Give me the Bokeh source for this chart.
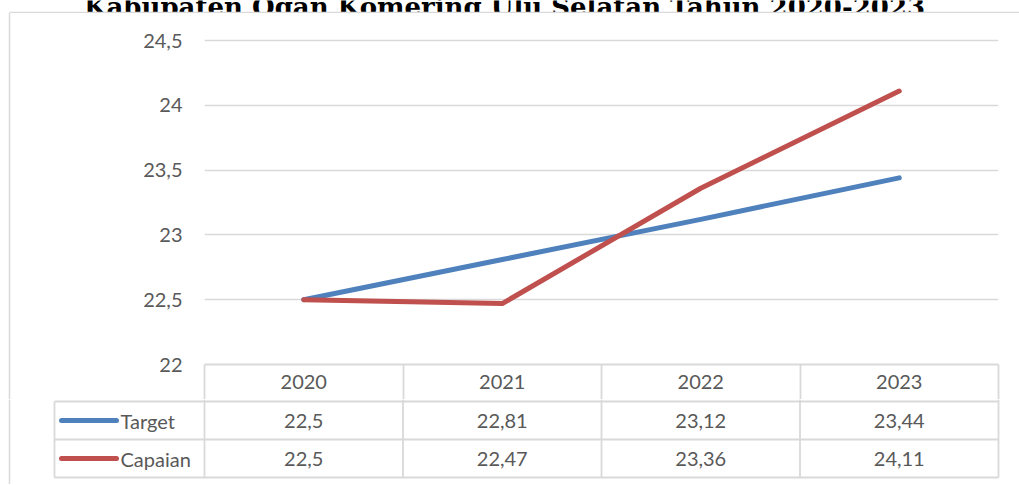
from bokeh.plotting import figure
from bokeh.models import Range1d, FixedTicker, LinearAxis, Grid
from bokeh.layouts import column, row
from bokeh.embed import file_html
from bokeh.resources import INLINE
from bokeh.core.properties import value

# ---------------- data ----------------
years = ["2020", "2021", "2022", "2023"]
target = [22.5, 22.81, 23.12, 23.44]
capaian = [22.5, 22.47, 23.36, 24.11]
series_names = ["Target", "Capaian"]
y_ticks = [22, 22.5, 23, 23.5, 24, 24.5]
y_tick_labels = ["22", "22,5", "23", "23,5", "24", "24,5"]
title_text = "Kabupaten Ogan Komering Ulu Selatan Tahun 2020-2023"

# ---------------- style ----------------
BLUE = "#4F81BD"
RED = "#C0504D"
GRID = "#d9d9d9"
TXT = "#595959"
FONT = "Lato"
FS = "20px"
LW = 5
colors = [BLUE, RED]
series_values = [target, capaian]
W = 1019


def fmt(v):
    return f"{v:g}".replace(".", ",")


def bare(w, h, xr, yr):
    f = figure(width=w, height=h, x_range=xr, y_range=yr, x_axis_type=None,
               y_axis_type=None, min_border=0, output_backend="svg",
               toolbar_location=None)
    f.outline_line_color = None
    return f


# ---------------- title strip ----------------
T = bare(W, 13, Range1d(0, W), Range1d(13, 0))
T.text(x=[504], y=[6], text=[title_text], text_font=value("DejaVu Serif"),
       text_font_style="bold", text_font_size="26px", text_align="center",
       text_baseline="alphabetic", text_color="black")
T.segment(x0=[9], y0=[12], x1=[W], y1=[12], line_color=GRID, line_width=1.5)

# ---------------- chart ----------------
PX_PER_UNIT = 129.6
COL0 = 204.0
COLW = 198.5
FR_TOP = 35 - 13     # frame top inside the chart canvas
FR_BOT = 364 - 13    # frame bottom inside the chart canvas
A_H = 386
HDR = A_H - FR_BOT   # header row height below the plot area
A = figure(width=W, height=A_H, x_range=Range1d(0, 4),
           y_range=Range1d(22, 22 + (FR_BOT - FR_TOP) / PX_PER_UNIT),
           x_axis_type=None, y_axis_type=None,
           min_border_left=int(COL0), min_border_right=W - 998, min_border_top=FR_TOP,
           min_border_bottom=HDR, output_backend="svg", toolbar_location=None)
A.outline_line_color = None

yaxis = LinearAxis(ticker=FixedTicker(ticks=y_ticks),
                   major_label_overrides=dict(zip(y_ticks, y_tick_labels)),
                   axis_line_color=None, major_tick_line_color=None,
                   minor_tick_line_color=None, major_tick_out=0, major_tick_in=0,
                   minor_tick_out=0, minor_tick_in=0,
                   major_label_standoff=22, major_label_text_font=FONT,
                   major_label_text_font_size=FS, major_label_text_color=TXT)
A.add_layout(yaxis, "left")

centers = [i + 0.5 for i in range(len(years))]
xaxis = LinearAxis(ticker=FixedTicker(ticks=centers, minor_ticks=list(range(len(years) + 1))),
                   major_label_overrides=dict(zip(centers, years)),
                   axis_line_color=GRID, axis_line_width=1.8,
                   major_tick_line_color=None, major_tick_out=0, major_tick_in=0,
                   minor_tick_in=0, minor_tick_out=HDR, minor_tick_line_color=GRID,
                   minor_tick_line_width=1.8,
                   major_label_standoff=10 - HDR, major_label_text_font=FONT,
                   major_label_text_font_size=FS, major_label_text_color=TXT)
A.add_layout(xaxis, "below")

A.add_layout(Grid(dimension=1, ticker=FixedTicker(ticks=y_ticks),
                  grid_line_color=GRID, grid_line_width=1.5))

for vals, c in zip(series_values, colors):
    A.line(x=centers, y=vals, line_color=c, line_width=LW,
           line_cap="round", line_join="round")

# outer left border of the chart area (drawn as an overlay, outside the frame)
bx = (9 - COL0) / COLW
A.segment(x0=[bx], y0=[22 + (FR_BOT + 2) / PX_PER_UNIT],
          x1=[bx], y1=[22 - (HDR + 2) / PX_PER_UNIT],
          line_color=GRID, line_width=1.5, level="overlay")


# ---------------- table ----------------
def u(px):
    return (px - COL0) / COLW


ROW0 = 401
ROWH = 38
B_TOP = 399
B_BOT = 484
B = bare(W, B_BOT - B_TOP, Range1d(u(0), u(W)),
         Range1d((B_BOT - ROW0) / ROWH, (B_TOP - ROW0) / ROWH))
top_b = (B_TOP - ROW0) / ROWH
bot_b = (B_BOT - ROW0) / ROWH
nrows = len(series_names)
ncols = len(years)
leg_left = u(54)

# horizontal rules
B.segment(x0=[leg_left] * (nrows + 1), y0=list(range(nrows + 1)),
          x1=[ncols] * (nrows + 1), y1=list(range(nrows + 1)),
          line_color=GRID, line_width=1.8)
# vertical rules
B.segment(x0=[leg_left], y0=[0], x1=[leg_left], y1=[nrows],
          line_color=GRID, line_width=1.8)
B.segment(x0=list(range(ncols + 1)), y0=[top_b] * (ncols + 1),
          x1=list(range(ncols + 1)), y1=[nrows] * (ncols + 1),
          line_color=GRID, line_width=1.8)
# outer left border
B.segment(x0=[u(9)], y0=[top_b], x1=[u(9)], y1=[bot_b], line_color=GRID, line_width=1.5)

for i, (name, vals, c) in enumerate(zip(series_names, series_values, colors)):
    yc = i + 0.5
    B.segment(x0=[u(61)], y0=[yc], x1=[u(116)], y1=[yc], line_color=c,
              line_width=LW, line_cap="round")
    B.text(x=[u(120)], y=[yc], text=[name], text_font=value(FONT),
           text_font_size=FS, text_color=TXT, text_align="left",
           text_baseline="middle")
    B.text(x=centers, y=[yc] * ncols, text=[fmt(v) for v in vals],
           text_font=value(FONT), text_font_size=FS, text_color=TXT,
           text_align="center", text_baseline="middle")

layout = column(T, row(A), B)

open("out.html", "w").write(file_html(layout, INLINE))
